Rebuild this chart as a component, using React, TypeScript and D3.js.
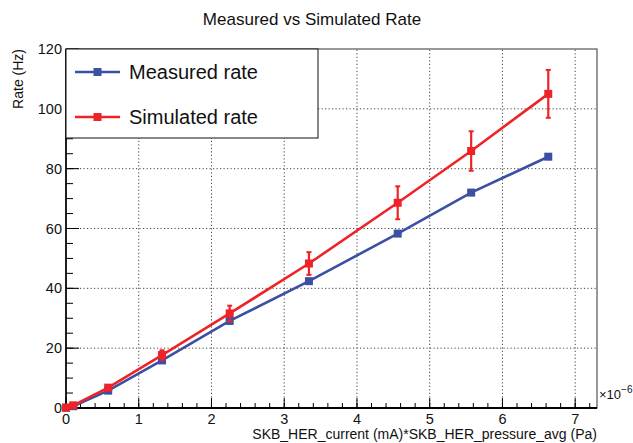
import React from "react";
import * as d3 from "d3";

// values (x in units of 1e-6)
const xValues = [0.0, 0.1, 0.58, 1.32, 2.25, 3.34, 4.56, 5.57, 6.63];
const measured = [0.1, 0.6, 5.8, 15.9, 29.1, 42.4, 58.3, 72.0, 84.0];
const simulated = [0.1, 0.9, 6.8, 17.7, 31.6, 48.3, 68.6, 85.9, 105.0];
const simulatedErr = [0.1, 0.3, 0.8, 1.6, 2.6, 3.8, 5.5, 6.6, 8.0];

const xTickLabels = ["0", "1", "2", "3", "4", "5", "6", "7"];
const yTickLabels = ["0", "20", "40", "60", "80", "100", "120"];

const seriesNames = ["Measured rate", "Simulated rate"];
const BLUE = "#3b4fa3";
const RED = "#ee2328";

const width = 633;
const height = 443;
const margin = { left: 66, right: 36, top: 49, bottom: 35 };
const font = "'Liberation Sans', Arial, sans-serif";

const App = () => {
  const x = d3.scaleLinear().domain([0, 7.3]).range([margin.left, width - margin.right]);
  const y = d3.scaleLinear().domain([0, 120]).range([height - margin.bottom, margin.top]);

  const x0 = x.range()[0];
  const x1 = x.range()[1];
  const y0 = y.range()[0];
  const y1 = y.range()[1];

  const xMajor = xTickLabels.map(Number);
  const yMajor = yTickLabels.map(Number);
  const xMinor = d3.range(0, 7.3, 0.2);
  const yMinor = d3.range(0, 120, 5);

  const line = d3
    .line<number>()
    .x((_, i) => x(xValues[i]))
    .y((d) => y(d));

  const ms = 8;

  return (
    <svg
      width={width}
      height={height}
      style={{ position: "absolute", left: 0, top: 0, background: "#fff" }}
      fontFamily={font}
    >
      <rect width={width} height={height} fill="#fff" />

      {/* title */}
      <text x={312} y={25} fontSize={17} textAnchor="middle" fill="#111">
        Measured vs Simulated Rate
      </text>

      {/* grid */}
      <g stroke="#444" strokeWidth={1} strokeDasharray="1.2 2.3">
        {xMajor.filter((v) => v > 0).map((v) => (
          <line key={"gx" + v} x1={x(v)} x2={x(v)} y1={y0} y2={y1} />
        ))}
        {yMajor.filter((v) => v > 0 && v < 120).map((v) => (
          <line key={"gy" + v} x1={x0} x2={x1} y1={y(v)} y2={y(v)} />
        ))}
      </g>

      {/* frame */}
      <rect x={x0} y={y1} width={x1 - x0} height={y0 - y1} fill="none" stroke="#333" strokeWidth={1} />

      {/* x axis */}
      <line x1={x0} x2={x1} y1={y0} y2={y0} stroke="#000" strokeWidth={2} />
      {xMinor.map((v) => (
        <line key={"xm" + v} x1={x(v)} x2={x(v)} y1={y0} y2={y0 - 5} stroke="#000" strokeWidth={1} />
      ))}
      {xMajor.map((v) => (
        <line key={"xM" + v} x1={x(v)} x2={x(v)} y1={y0} y2={y0 - 10} stroke="#000" strokeWidth={1} />
      ))}
      {xTickLabels.map((t) => (
        <text key={"xl" + t} x={x(Number(t))} y={y0 + 16} fontSize={14.5} textAnchor="middle" fill="#111">
          {t}
        </text>
      ))}
      <text x={x1 + 2} y={y0 - 9} fontSize={13} fill="#111">
        ×10
        <tspan dy={-6} fontSize={10}>
          −6
        </tspan>
      </text>
      <text x={x1} y={y0 + 31} fontSize={14} textAnchor="end" fill="#111">
        SKB_HER_current (mA)*SKB_HER_pressure_avg (Pa)
      </text>

      {/* y axis */}
      <line x1={x0} x2={x0} y1={y0} y2={y1} stroke="#000" strokeWidth={1.6} />
      {yMinor.map((v) => (
        <line key={"ym" + v} x1={x0} x2={x0 + 7} y1={y(v)} y2={y(v)} stroke="#000" strokeWidth={1} />
      ))}
      {yMajor.map((v) => (
        <line key={"yM" + v} x1={x0} x2={x0 + 13} y1={y(v)} y2={y(v)} stroke="#000" strokeWidth={1} />
      ))}
      {yTickLabels.map((t) => (
        <text key={"yl" + t} x={x0 - 4} y={y(Number(t)) + 5} fontSize={14.5} textAnchor="end" fill="#111">
          {t}
        </text>
      ))}
      <text
        transform={`translate(${23},${y1}) rotate(-90)`}
        fontSize={14}
        textAnchor="end"
        fill="#111"
      >
        Rate (Hz)
      </text>

      {/* measured series */}
      <path d={line(measured) ?? ""} fill="none" stroke={BLUE} strokeWidth={2.6} />
      {measured.map((v, i) => (
        <rect key={"mp" + i} x={x(xValues[i]) - ms / 2} y={y(v) - ms / 2} width={ms} height={ms} fill={BLUE} />
      ))}

      {/* simulated series */}
      <path d={line(simulated) ?? ""} fill="none" stroke={RED} strokeWidth={2.6} />
      {simulated.map((v, i) => {
        const cx = x(xValues[i]);
        const top = y(v + simulatedErr[i]);
        const bot = y(v - simulatedErr[i]);
        return (
          <g key={"sp" + i}>
            <line x1={cx} x2={cx} y1={top} y2={bot} stroke={RED} strokeWidth={2.2} />
            <line x1={cx - 2.5} x2={cx + 2.5} y1={top} y2={top} stroke={RED} strokeWidth={2} />
            <line x1={cx - 2.5} x2={cx + 2.5} y1={bot} y2={bot} stroke={RED} strokeWidth={2} />
            <rect x={cx - ms / 2} y={y(v) - ms / 2} width={ms} height={ms} fill={RED} />
          </g>
        );
      })}

      {/* legend */}
      <g>
        <rect x={x0} y={y1} width={252} height={89} fill="#fff" stroke="#111" strokeWidth={1} />
        {seriesNames.map((name, i) => {
          const ly = 72 + i * 45;
          const c = i === 0 ? BLUE : RED;
          return (
            <g key={name}>
              <line x1={75} x2={120} y1={ly} y2={ly} stroke={c} strokeWidth={2.6} />
              <rect x={97.5 - ms / 2} y={ly - ms / 2} width={ms} height={ms} fill={c} />
              <text x={129} y={ly + 7} fontSize={20} fill="#111">
                {name}
              </text>
            </g>
          );
        })}
      </g>
    </svg>
  );
};

export default App;
